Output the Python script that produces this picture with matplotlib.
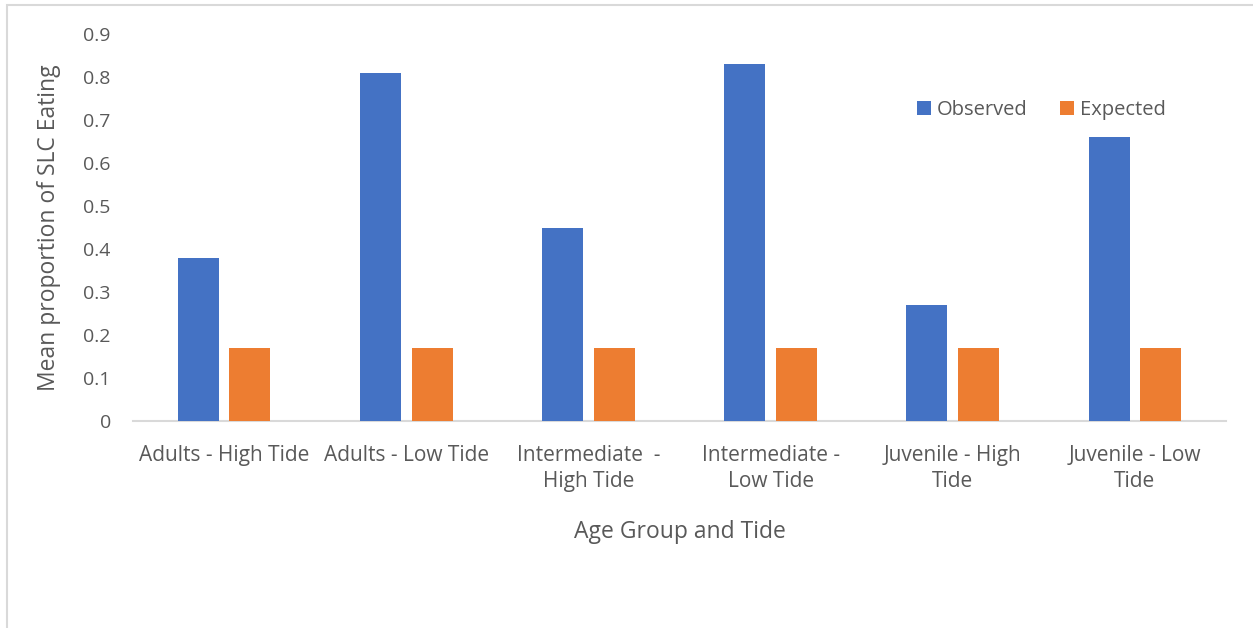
import matplotlib.pyplot as plt
import numpy as np
from matplotlib.patches import Rectangle

# Chart data
groups = ["Adults - High Tide", "Adults - Low Tide", "Intermediate  -\nHigh Tide",
          "Intermediate -\nLow Tide", "Juvenile - High\nTide", "Juvenile - Low\nTide"]
observed = [0.38, 0.81, 0.45, 0.83, 0.27, 0.66]
expected = [0.17, 0.17, 0.17, 0.17, 0.17, 0.17]
yticks = [0, 0.1, 0.2, 0.3, 0.4, 0.5, 0.6, 0.7, 0.8, 0.9]

BLUE = "#4472C4"
ORANGE = "#ED7D31"
TEXT = "#595959"
GRID = "#D9D9D9"

plt.rcParams['font.family'] = ['Open Sans', 'DejaVu Sans']

fig = plt.figure(figsize=(12.53, 6.28), dpi=100)
fig.patches.append(Rectangle((7 / 1253, -0.1), 1.1, 1 - 5 / 628 + 0.1,
                             transform=fig.transFigure, fill=False,
                             edgecolor=GRID, linewidth=1.5))

ax = fig.add_axes([133 / 1253, 1 - 421 / 628, 1093 / 1253, 387 / 628])
x = np.arange(len(groups))
w = 0.225
ax.bar(x - 0.142, observed, w, color=BLUE, label="Observed", zorder=3)
ax.bar(x + 0.142, expected, w, color=ORANGE, label="Expected", zorder=3)

ax.set_xlim(-0.5, len(groups) - 0.5)
ax.set_ylim(0, 0.9)
ax.set_yticks(yticks)
ax.set_yticklabels([f"{t:g}" for t in yticks])
ax.set_xticks(x)
ax.set_xticklabels(groups, linespacing=1.35)

for s in ["top", "right", "left"]:
    ax.spines[s].set_visible(False)
ax.spines["bottom"].set_color(GRID)
ax.spines["bottom"].set_linewidth(1.5)
ax.tick_params(axis="both", length=0, labelcolor=TEXT)
ax.tick_params(axis="y", pad=16, labelsize=14)
ax.tick_params(axis="x", pad=17, labelsize=15)

ax.set_ylabel("Mean proportion of SLC Eating", fontsize=16.5, color=TEXT, labelpad=16)
ax.set_xlabel("Age Group and Tide", fontsize=16.5, color=TEXT, labelpad=20)

ax.legend(loc="upper left", bbox_to_anchor=(0.71, 0.85), ncol=2, frameon=False,
          fontsize=14.5, labelcolor=TEXT, handlelength=0.7, handleheight=0.7,
          handletextpad=0.3, columnspacing=1.6, borderaxespad=0)

fig.savefig("out.png", dpi=100, facecolor="white")
